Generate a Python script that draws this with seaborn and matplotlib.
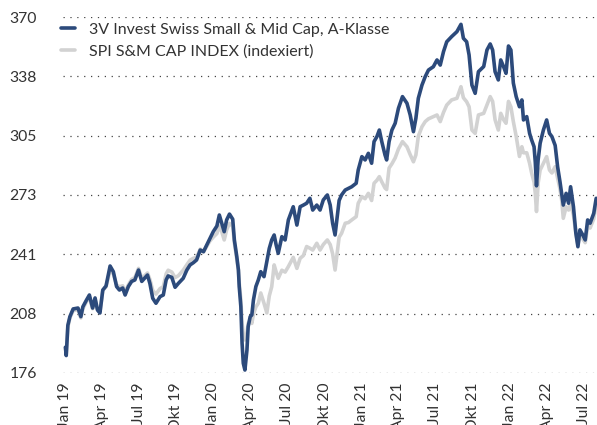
import pandas as pd
import numpy as np
import matplotlib
matplotlib.use("Agg")
import matplotlib.pyplot as plt
import seaborn as sns

# weekly-ish readings, fund (blue) and index (grey) share one date list
dates = [
    "2019-01-02", "2019-01-04", "2019-01-08", "2019-01-13", "2019-01-21", "2019-02-02", "2019-02-09",
    "2019-02-14", "2019-02-23", "2019-03-02", "2019-03-10", "2019-03-16", "2019-03-22", "2019-03-28",
    "2019-04-04", "2019-04-12", "2019-04-22", "2019-04-30", "2019-05-08", "2019-05-15", "2019-05-23",
    "2019-05-29", "2019-06-06", "2019-06-14", "2019-06-22", "2019-07-01", "2019-07-09", "2019-07-23",
    "2019-07-29", "2019-08-05", "2019-08-13", "2019-08-23", "2019-08-31", "2019-09-07", "2019-09-12",
    "2019-09-21", "2019-09-29", "2019-10-07", "2019-10-19", "2019-10-28", "2019-11-05", "2019-11-13",
    "2019-11-21", "2019-11-30", "2019-12-08", "2019-12-16", "2019-12-24",
    "2020-01-01", "2020-01-10", "2020-01-16", "2020-01-22", "2020-01-28", "2020-02-03", "2020-02-10",
    "2020-02-18", "2020-02-22", "2020-02-28", "2020-03-03", "2020-03-05", "2020-03-09", "2020-03-12",
    "2020-03-15", "2020-03-19", "2020-03-24", "2020-03-27", "2020-04-01", "2020-04-05", "2020-04-09",
    "2020-04-15", "2020-04-21", "2020-04-27", "2020-05-05", "2020-05-12", "2020-05-18", "2020-05-24",
    "2020-05-30", "2020-06-04", "2020-06-09", "2020-06-18", "2020-06-26", "2020-07-04", "2020-07-16",
    "2020-07-25", "2020-08-02", "2020-08-10", "2020-08-18", "2020-08-26", "2020-09-02", "2020-09-12",
    "2020-09-20", "2020-09-28", "2020-10-08", "2020-10-15", "2020-10-21", "2020-10-27", "2020-11-06",
    "2020-11-12", "2020-11-21", "2020-11-29", "2020-12-07", "2020-12-18", "2020-12-23",
    "2021-01-01", "2021-01-09", "2021-01-17", "2021-01-25", "2021-01-31", "2021-02-07", "2021-02-13",
    "2021-02-19", "2021-02-27", "2021-03-03", "2021-03-09", "2021-03-16", "2021-03-24", "2021-04-01",
    "2021-04-11", "2021-04-22", "2021-04-30", "2021-05-08", "2021-05-14", "2021-05-20", "2021-05-29",
    "2021-06-06", "2021-06-14", "2021-06-26", "2021-07-05", "2021-07-13", "2021-07-21", "2021-07-29",
    "2021-08-10", "2021-08-23", "2021-09-02", "2021-09-08", "2021-09-16", "2021-09-22", "2021-09-29",
    "2021-10-07", "2021-10-15", "2021-10-28", "2021-11-05", "2021-11-13", "2021-11-19", "2021-11-25",
    "2021-12-03", "2021-12-09", "2021-12-16", "2021-12-22", "2021-12-28",
    "2022-01-03", "2022-01-09", "2022-01-16", "2022-01-24", "2022-01-30", "2022-02-03", "2022-02-11",
    "2022-02-18", "2022-02-23", "2022-03-01", "2022-03-04", "2022-03-07", "2022-03-11", "2022-03-16",
    "2022-03-24", "2022-04-01", "2022-04-08", "2022-04-14", "2022-04-22", "2022-04-28", "2022-05-04",
    "2022-05-08", "2022-05-12", "2022-05-19", "2022-05-25", "2022-05-30", "2022-06-06", "2022-06-12",
    "2022-06-17", "2022-06-22", "2022-06-29", "2022-07-05", "2022-07-11", "2022-07-17", "2022-07-26",
    "2022-08-01",
]

fund = [
    190, 185.5, 202, 206.7, 210.9, 211.4, 206.7,
    212.1, 215.8, 218.5, 211.4, 216.9, 210.3, 208.7,
    221.2, 223.4, 234.3, 231.2, 223.1, 221.2, 222.3,
    218.5, 223.1, 225.9, 226.7, 232.1, 225.9, 229.4,
    224.8, 216.7, 214.0, 217.6, 218.5, 226.7, 228.9,
    228.1, 222.7, 224.8, 227.6, 232.1, 234.9, 236.1,
    237.6, 243.0, 242.1, 245.7, 249.4,
    253.0, 256.1, 262.1, 257.6, 253.0, 259.4, 262.6,
    259.8, 248.5, 239.4, 232.1, 223.1, 212.1, 192.2,
    181.3, 177.6, 188.5, 201.2, 206.7, 207.6, 215.8,
    223.1, 226.7, 231.2, 228.5, 236.7, 243.9, 248.5,
    251.2, 245.7, 241.2, 250.3, 248.5, 259.4, 266.6,
    256.6, 266.6, 267.5, 268.5, 271.2, 264.8, 267.5,
    264.8, 270.3, 273.0, 267.5, 257.6, 251.2, 270,
    273.0, 275.7, 276.6, 277.5, 279.4, 286.6,
    293.9, 292.1, 295.7, 290.3, 302.1, 304.8, 308.4,
    302.1, 294.8, 292.1, 302.1, 308.4, 312.1, 320.2,
    326.6, 323.0, 316.6, 307.5, 314.8, 325.7, 332.9,
    337.5, 341.1, 342.9, 346.6, 343.8, 351.1, 356.5,
    359.3, 362.0, 366.0, 358.4, 356.5, 349.3, 332.9,
    328.4, 340.2, 343, 352.0, 355.3, 352, 340.2,
    335.7, 346.6, 342.9, 339.3, 354.2,
    352, 334, 326.6, 321.1, 324.8, 313.9, 315.7,
    306.6, 303, 299.3, 291, 278, 292.1, 301.2,
    308.4, 313.9, 306.6, 304.8, 300, 288.4, 280,
    273.9, 267.5, 273.9, 268.5, 277.5, 266.6, 252.1,
    244.8, 254, 251.2, 248.5, 259.4, 257.6, 263.0,
    271.2,
]

spi = [
    190, 186, 201, 206, 210, 210.5, 206,
    211, 215, 217, 211, 216, 210.5, 209,
    221, 223, 232, 230, 224, 223, 223.5,
    220, 224, 227, 228, 233, 227.5, 230.5,
    227, 221, 219, 222, 223, 230, 232,
    231, 228, 229, 232, 235, 237.5, 238.5,
    239, 243.5, 242, 245, 248,
    250, 252, 256, 253, 248.5, 254, 257.5,
    256, 247, 238, 232, 225, 216, 203,
    197, 194, 198, 203, 205, 203, 208,
    212, 214, 219.6, 214, 208.7, 218, 223,
    234.9, 231, 227.6, 232, 231, 234, 239,
    233, 238.5, 240, 244.9, 244, 243, 246.7,
    243, 246, 248.5, 246, 241, 232.1, 250,
    252.1, 257.6, 258, 259.4, 261.2, 268.5,
    272.1, 271, 273.9, 270, 279.4, 281, 283,
    280.2, 276.8, 276, 287.7, 290, 293.2, 298,
    302.1, 299.3, 295, 291.1, 294.8, 305, 310.2,
    313, 314.5, 315.7, 316.6, 313, 318, 322,
    324.8, 325.7, 332, 326, 323.8, 321.1, 308.4,
    306.6, 316.6, 317.5, 322, 326.6, 324, 314,
    308.4, 317.5, 314, 312.1, 324,
    321, 313, 305, 294, 299.3, 296, 296,
    290.3, 285, 280, 274, 264, 279.4, 286.6,
    290.3, 293.9, 286.6, 285, 288.4, 282.1, 276,
    270.3, 260.3, 266.6, 264.8, 268.5, 262, 252.1,
    246, 251, 249, 247, 256, 255, 260,
    268,
]

fund_label = "3V Invest Swiss Small & Mid Cap, A-Klasse"
spi_label = "SPI S&M CAP INDEX (indexiert)"

y_ticks = [176, 208.33, 240.67, 273, 305.33, 337.67, 370]
y_tick_labels = ["176", "208", "241", "273", "305", "338", "370"]

x_ticks = ["2019-01-01", "2019-04-01", "2019-07-01", "2019-10-01", "2020-01-01", "2020-04-01",
           "2020-07-01", "2020-10-01", "2021-01-01", "2021-04-01", "2021-07-01", "2021-10-01",
           "2022-01-01", "2022-04-01", "2022-07-01"]
x_tick_labels = ["Jan 19", "Apr 19", "Jul 19", "Okt 19", "Jan 20", "Apr 20", "Jul 20", "Okt 20",
                 "Jan 21", "Apr 21", "Jul 21", "Okt 21", "Jan 22", "Apr 22", "Jul 22"]

sns.set_style("white")
plt.rcParams["font.family"] = ["Lato", "DejaVu Sans"]

df = pd.DataFrame({"Datum": pd.to_datetime(dates), "fund": fund, "spi": spi})

fig, ax = plt.subplots(figsize=(5.97, 4.25), dpi=100)
fig.subplots_adjust(left=0.1055, right=1.0, top=0.96, bottom=0.1224)

sns.lineplot(data=df, x="Datum", y="spi", color="#d2d2d2", lw=2.6, ax=ax, label=spi_label)
sns.lineplot(data=df, x="Datum", y="fund", color="#2c4a7b", lw=2.6, ax=ax, label=fund_label)

ax.set_ylim(176, 370)
ax.set_xlim(pd.Timestamp("2018-12-27"), pd.Timestamp("2022-08-03"))
ax.set_yticks(y_ticks)
ax.set_yticklabels(y_tick_labels)
ax.set_xticks(pd.to_datetime(x_ticks))
ax.set_xticklabels(x_tick_labels, rotation=90)
ax.set_xlabel("")
ax.set_ylabel("")

ax.yaxis.grid(True, linestyle=(0, (1, 4.5)), color="#444444", lw=0.9)
ax.xaxis.grid(False)
for s in ax.spines.values():
    s.set_visible(False)
ax.tick_params(axis="both", length=0, labelsize=11.3, labelcolor="#333333")
ax.tick_params(axis="y", pad=19)
ax.tick_params(axis="x", pad=7)

h, l = ax.get_legend_handles_labels()
ax.legend(h[::-1], l[::-1], loc="upper left", bbox_to_anchor=(-0.003, 0.985), frameon=False,
          borderaxespad=0, borderpad=0, handlelength=0.85, handletextpad=0.85,
          labelspacing=0.5, fontsize=11.5, labelcolor="#333333")

plt.savefig("out.png", dpi=100)
